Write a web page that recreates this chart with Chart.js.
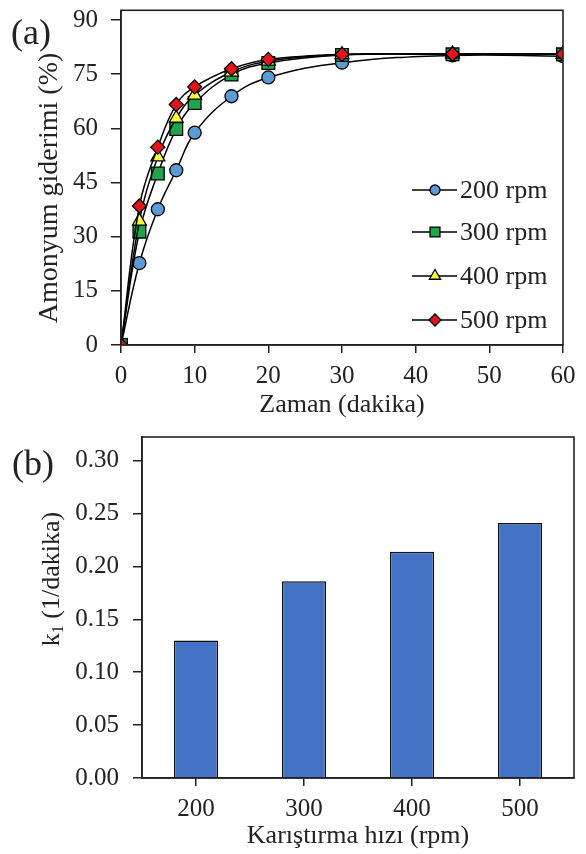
<!DOCTYPE html>
<html>
<head>
<meta charset="utf-8">
<script src="https://cdn.jsdelivr.net/npm/chart.js@4/dist/chart.umd.min.js"></script>
<style>
  html, body { margin: 0; padding: 0; background: #fff; }
  body { width: 586px; height: 854px; position: relative; overflow: hidden; font-family: "Liberation Serif", serif; }
  .box { position: absolute; left: 0; width: 586px; }
  .panel { position: absolute; font-size: 36px; color: #222; line-height: 1; }
</style>
</head>
<body>
<div class="box" style="top:0;height:425px"><canvas id="removalChart"></canvas></div>
<div class="box" style="top:425px;height:429px"><canvas id="rateChart"></canvas></div>
<div class="panel" style="left:11px;top:14px">(a)</div>
<div class="panel" style="left:12px;top:445px">(b)</div>
<script>
// zaman (dakika)
const times = [0, 2.5, 5, 7.5, 10, 15, 20, 30, 45, 60];
// amonyum giderimi (%)
const rpm200 = [0, 22.7, 37.6, 48.4, 58.8, 68.9, 74.1, 78.2, 80.2, 80.0];
const rpm300 = [0, 31.4, 47.5, 59.8, 67.0, 74.9, 78.1, 80.3, 80.5, 80.5];
const rpm400 = [0, 34.3, 52.1, 62.8, 69.2, 75.6, 78.6, 80.4, 80.6, 80.6];
const rpm500 = [0, 38.5, 54.8, 66.6, 71.5, 76.5, 79.1, 80.5, 80.6, 80.6];
const seriesLabels = ["200 rpm", "300 rpm", "400 rpm", "500 rpm"];
const removalTicks = [0, 15, 30, 45, 60, 75, 90];

// hız sabiti k1
const speeds = ["200", "300", "400", "500"];
const k1 = [0.130, 0.186, 0.214, 0.241];
const rateTicks = [0, 0.05, 0.10, 0.15, 0.20, 0.25, 0.30];

const FONT = "'Liberation Serif', 'Times New Roman', serif";
const INK = "#222";

function toPoints(values) {
    return values.map((v, i) => ({ x: times[i], y: v }));
}

// eksen etiketleri için ek boşluk istemesin
function noLabelPadding(scale) {
    scale.paddingTop = 0;
    scale.paddingBottom = 0;
}

// kutu çerçevesi (üst ve sağ kenar dahil)
const frame = {
    id: "frame",
    afterDatasetsDraw(chart) {
        const a = chart.chartArea;
        const ctx = chart.ctx;
        ctx.save();
        ctx.strokeStyle = INK;
        ctx.lineWidth = 1.6;
        ctx.strokeRect(a.left, a.top, a.right - a.left, a.bottom - a.top);
        ctx.restore();
    }
};

// döndürülmüş y ekseni başlığı, parça parça (alt indis için)
const yTitle = {
    id: "yTitle",
    afterDraw(chart, args, opts) {
        const ctx = chart.ctx;
        ctx.save();
        ctx.translate(opts.x, opts.y);
        ctx.rotate(-Math.PI / 2);
        ctx.fillStyle = INK;
        ctx.textBaseline = "middle";
        ctx.textAlign = "left";
        let total = 0;
        opts.parts.forEach(p => {
            ctx.font = p.size + "px " + FONT;
            p.w = ctx.measureText(p.text).width;
            total += p.w;
        });
        let x = -total / 2;
        opts.parts.forEach(p => {
            ctx.font = p.size + "px " + FONT;
            ctx.fillText(p.text, x, p.dy || 0);
            x += p.w;
        });
        ctx.restore();
    }
};

// grafik içindeki lejant: çizgi + işaret + etiket
const legendRadius = { circle: 5, rect: 7, triangle: 6.5, rectRot: 6 };
const insideLegend = {
    id: "insideLegend",
    afterDraw(chart) {
        const ctx = chart.ctx;
        const x0 = 412, x1 = 457, mx = 435;
        const rows = [190, 232, 276, 320];
        ctx.save();
        chart.data.datasets.forEach((ds, i) => {
            const y = rows[i];
            ctx.strokeStyle = "#000";
            ctx.lineWidth = 1.5;
            ctx.beginPath();
            ctx.moveTo(x0, y);
            ctx.lineTo(x1, y);
            ctx.stroke();
            ctx.fillStyle = ds.pointBackgroundColor;
            ctx.strokeStyle = "#000";
            ctx.lineWidth = 1.3;
            Chart.helpers.drawPoint(ctx, {
                pointStyle: ds.pointStyle,
                radius: legendRadius[ds.pointStyle],
                rotation: 0,
                borderWidth: 1.3
            }, mx, y);
            ctx.fillStyle = INK;
            ctx.font = "26px " + FONT;
            ctx.textBaseline = "middle";
            ctx.textAlign = "left";
            ctx.fillText(ds.label, x1 + 3, y + 1);
        });
        ctx.restore();
    }
};

function lineSet(label, values, color, style, radius, order) {
    return {
        label: label,
        data: toPoints(values),
        borderColor: "#000",
        borderWidth: 1.5,
        tension: 0.4,
        pointStyle: style,
        pointRadius: radius,
        pointBackgroundColor: color,
        pointBorderColor: "#000",
        pointBorderWidth: 1.3,
        order: order,
        fill: false
    };
}

const removalChart = new Chart(document.getElementById("removalChart"), {
    type: "line",
    data: {
        datasets: [
            lineSet(seriesLabels[0], rpm200, "#5b9bd5", "circle", 6.5, 3),
            lineSet(seriesLabels[1], rpm300, "#1ea44b", "rect", 9, 2),
            lineSet(seriesLabels[2], rpm400, "#ffff3c", "triangle", 8, 1),
            lineSet(seriesLabels[3], rpm500, "#e4141b", "rectRot", 7, 0)
        ]
    },
    options: {
        responsive: true,
        maintainAspectRatio: false,
        animation: false,
        layout: { padding: { top: 5, right: 23, left: 0, bottom: 0 } },
        plugins: {
            legend: { display: false },
            tooltip: { enabled: false },
            yTitle: { x: 50, y: 188, parts: [{ text: "Amonyum giderimi (%)", size: 28 }] }
        },
        scales: {
            x: {
                type: "linear",
                min: 0,
                max: 60,
                ticks: { stepSize: 10, color: INK, padding: 8, font: { family: FONT, size: 25 } },
                grid: { drawOnChartArea: false, drawTicks: true, tickLength: 8, color: INK, lineWidth: 1.5 },
                border: { color: INK, width: 1.6 },
                title: { display: true, text: "Zaman (dakika)", color: INK, font: { family: FONT, size: 26 }, padding: { top: 0, bottom: 4 } },
                afterFit(scale) { scale.height = 80; }
            },
            y: {
                min: 0,
                max: 92.7,
                afterBuildTicks(scale) {
                    scale.ticks = removalTicks.map(v => ({ value: v }));
                },
                ticks: { color: INK, padding: 13, font: { family: FONT, size: 25 } },
                grid: { drawOnChartArea: false, drawTicks: true, tickLength: 10, color: INK, lineWidth: 1.5 },
                border: { color: INK, width: 1.6 },
                afterFit(scale) {
                    scale.width = 121;
                    noLabelPadding(scale);
                }
            }
        }
    },
    plugins: [frame, insideLegend, yTitle]
});

const rateChart = new Chart(document.getElementById("rateChart"), {
    type: "bar",
    data: {
        labels: speeds,
        datasets: [{
            label: "k1",
            data: k1,
            backgroundColor: "#4472c4",
            borderColor: "#111",
            borderWidth: 1.5,
            barPercentage: 0.41,
            categoryPercentage: 1
        }]
    },
    options: {
        responsive: true,
        maintainAspectRatio: false,
        animation: false,
        layout: { padding: { top: 12, right: 12, left: 0, bottom: 0 } },
        plugins: {
            legend: { display: false },
            tooltip: { enabled: false },
            yTitle: {
                x: 52, y: 154,
                parts: [
                    { text: "k", size: 26 },
                    { text: "1", size: 16, dy: 7 },
                    { text: " (1/dakika)", size: 26 }
                ]
            }
        },
        scales: {
            x: {
                offset: true,
                ticks: { color: INK, padding: 8, font: { family: FONT, size: 25 } },
                grid: { offset: false, drawOnChartArea: false, drawTicks: true, tickLength: 8, color: INK, lineWidth: 1.5 },
                border: { color: INK, width: 1.6 },
                title: { display: true, text: "Karıştırma hızı (rpm)", color: INK, font: { family: FONT, size: 26 }, padding: { top: 0, bottom: 2 } },
                afterFit(scale) { scale.height = 76; }
            },
            y: {
                min: 0,
                max: 0.3224,
                afterBuildTicks(scale) {
                    scale.ticks = rateTicks.map(v => ({ value: v }));
                },
                ticks: {
                    color: INK,
                    padding: 14,
                    font: { family: FONT, size: 25 },
                    callback: v => v.toFixed(2)
                },
                grid: { drawOnChartArea: false, drawTicks: true, tickLength: 9, color: INK, lineWidth: 1.5 },
                border: { color: INK, width: 1.6 },
                afterFit(scale) {
                    scale.width = 142;
                    noLabelPadding(scale);
                }
            }
        }
    },
    plugins: [frame, yTitle]
});
</script>
</body>
</html>
